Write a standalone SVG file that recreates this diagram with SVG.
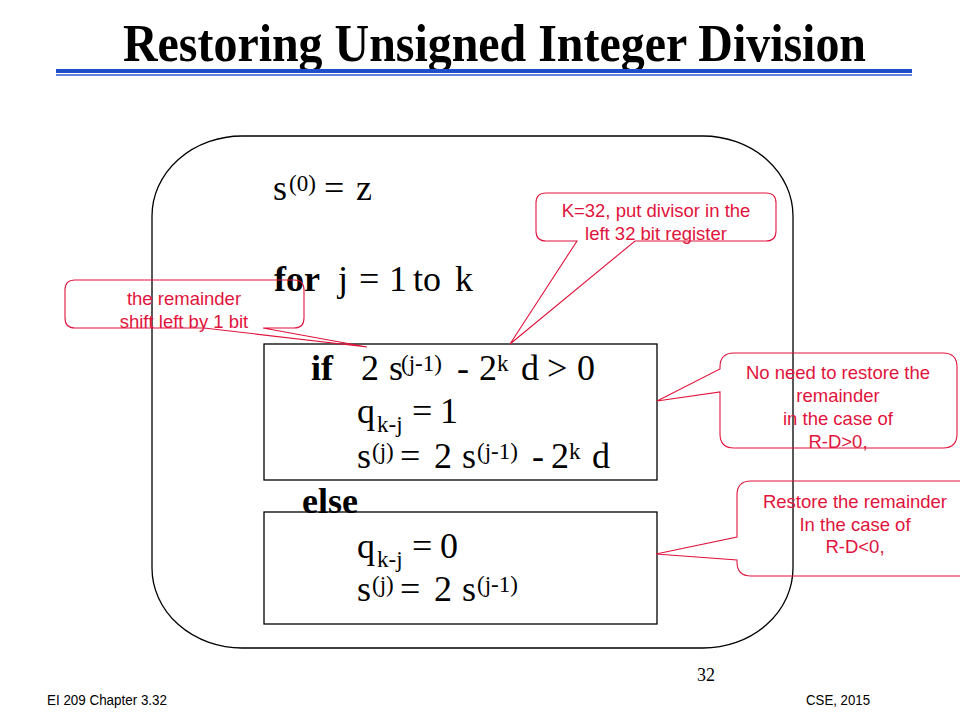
<svg xmlns="http://www.w3.org/2000/svg" width="960" height="720" viewBox="0 0 960 720">
<style>
.title{font-family:"Liberation Serif","Times New Roman",serif;font-weight:bold;font-size:53px;fill:#000}
.m{font-family:"Liberation Serif","Times New Roman",serif;font-size:36px;fill:#000}
.b{font-weight:bold}
.s{font-size:23px}
.box{fill:none;stroke:#000;stroke-width:1.3}
.call{fill:none;stroke:#e0143c;stroke-width:1.1}
.ct{font-family:"Liberation Sans",Arial,sans-serif;font-size:18.5px;fill:#e0143c;text-anchor:middle}
.ft{font-family:"Liberation Sans",Arial,sans-serif;font-size:14px;fill:#000}
</style>
<rect width="960" height="720" fill="#fff"/>
<g id="header">
<text class="title" x="123" y="61" textLength="743" lengthAdjust="spacingAndGlyphs">Restoring Unsigned Integer Division</text>
<rect x="56" y="69" width="856" height="4" fill="#1f4fc8"/>
<rect x="56" y="74.3" width="856" height="1.4" fill="#1f4fc8"/>
</g>
<g id="loop">
<rect class="box" x="152" y="136" width="641" height="512" rx="90" ry="80"/>
<text class="m" y="200"><tspan x="273">s</tspan><tspan class="s" x="289" dy="-9">(0)</tspan><tspan x="324" dy="9">=</tspan><tspan x="356">z</tspan></text>
<text class="m" y="291"><tspan class="b" x="274">for</tspan><tspan x="338">j</tspan><tspan x="359">=</tspan><tspan x="389">1</tspan><tspan x="413">to</tspan><tspan x="455">k</tspan></text>
</g>
<g id="if-branch">
<rect class="box" x="264" y="344" width="393" height="136"/>
<text class="m" y="380"><tspan class="b" x="311">if</tspan><tspan x="361">2</tspan><tspan x="389">s</tspan><tspan class="s" x="401" dy="-9">(j-1)</tspan><tspan x="457" dy="9">-</tspan><tspan x="479">2</tspan><tspan class="s" x="497" dy="-9">k</tspan><tspan x="521" dy="9">d</tspan><tspan x="547">&gt;</tspan><tspan x="577">0</tspan></text>
<text class="m" y="423"><tspan x="357">q</tspan><tspan class="s" x="377" dy="9">k-j</tspan><tspan x="412" dy="-9">=</tspan><tspan x="440">1</tspan></text>
<text class="m" y="468"><tspan x="357">s</tspan><tspan class="s" x="372" dy="-9">(j)</tspan><tspan x="400" dy="9">=</tspan><tspan x="434">2</tspan><tspan x="462">s</tspan><tspan class="s" x="477" dy="-9">(j-1)</tspan><tspan x="532" dy="9">-</tspan><tspan x="551">2</tspan><tspan class="s" x="569" dy="-9">k</tspan><tspan x="592" dy="9">d</tspan></text>
</g>
<g id="else-branch">
<rect class="box" x="264" y="512" width="393" height="112"/>
<text class="m b" x="302" y="513">else</text>
<text class="m" y="558"><tspan x="357">q</tspan><tspan class="s" x="377" dy="9">k-j</tspan><tspan x="412" dy="-9">=</tspan><tspan x="440">0</tspan></text>
<text class="m" y="601"><tspan x="357">s</tspan><tspan class="s" x="372" dy="-9">(j)</tspan><tspan x="400" dy="9">=</tspan><tspan x="434">2</tspan><tspan x="462">s</tspan><tspan class="s" x="477" dy="-9">(j-1)</tspan></text>
</g>
<g id="connectors">
<path class="call" d="M75,280 H294 Q304,280 304,290 V318 Q304,328 294,328 H263 L367,347 L204,328 H75 Q65,328 65,318 V290 Q65,280 75,280 Z"/>
<path class="call" d="M546,193 H766 Q776,193 776,203 V231 Q776,241 766,241 H635 L510,344 L577,241 H546 Q536,241 536,231 V203 Q536,193 546,193 Z"/>
<path class="call" d="M734,353 H943 Q957,353 957,367 V434 Q957,448 943,448 H734 Q720,448 720,434 V392 L657,401 L720,369 V367 Q720,353 734,353 Z"/>
<path class="call" d="M751,481 H961 Q975,481 975,495 V562 Q975,576 961,576 H751 Q737,576 737,562 V560 L656,554 L737,537 V495 Q737,481 751,481 Z"/>
</g>
<g id="note-shift">
<text class="ct" x="184" y="305">the remainder</text>
<text class="ct" x="184" y="328">shift left by 1 bit</text>
</g>
<g id="note-k32">
<text class="ct" x="656" y="217">K=32, put divisor in the</text>
<text class="ct" x="656" y="240">left 32 bit register</text>
</g>
<g id="note-norestore">
<text class="ct" x="838" y="379">No need to restore the</text>
<text class="ct" x="838" y="402">remainder</text>
<text class="ct" x="838" y="425">in the case of</text>
<text class="ct" x="838" y="448">R-D&gt;0,</text>
</g>
<g id="note-restore">
<text class="ct" x="855" y="508">Restore the remainder</text>
<text class="ct" x="855" y="531">In the case of</text>
<text class="ct" x="855" y="553">R-D&lt;0,</text>
</g>
<g id="footer">
<text x="697" y="681" font-family="Liberation Serif,serif" font-size="18">32</text>
<text class="ft" x="47" y="705" textLength="120" lengthAdjust="spacingAndGlyphs">EI 209 Chapter  3.32</text>
<text class="ft" x="806" y="705" textLength="64" lengthAdjust="spacingAndGlyphs">CSE, 2015</text>
</g>
</svg>
